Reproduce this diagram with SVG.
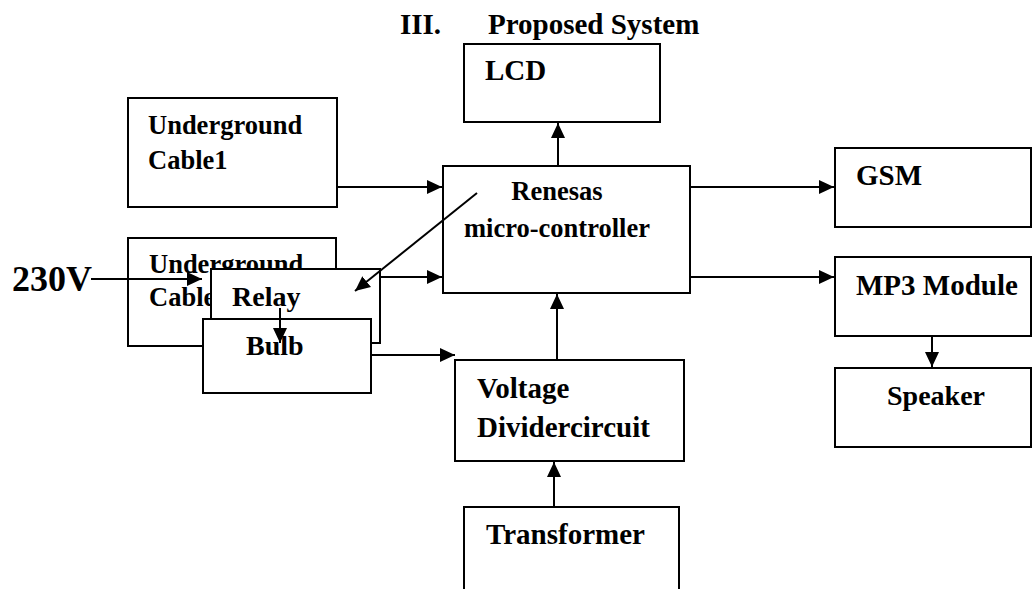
<svg xmlns="http://www.w3.org/2000/svg" width="1032" height="589" viewBox="0 0 1032 589">
<style>
.box{fill:#fff;stroke:#000;stroke-width:2}
.t{font-family:"Liberation Serif","Times New Roman",serif;font-weight:bold;font-size:28px;fill:#000}
.s26{font-size:26.5px}
.s29{font-size:29px}
.s36{font-size:36px}
.c{stroke:#000;stroke-width:2;fill:none;marker-end:url(#ah)}
</style>
<defs>
<marker id="ah" markerUnits="userSpaceOnUse" markerWidth="16" markerHeight="16" viewBox="0 0 16 16" refX="15" refY="8" orient="auto">
<path d="M0,1 L15,8 L0,15 Z" fill="#000"/>
</marker>
</defs>
<rect width="1032" height="589" fill="#fff"/>
<g id="title">
<text class="t s29" x="400" y="34">III.</text>
<text class="t s29" x="488" y="34">Proposed System</text>
</g>
<g id="lcd"><rect class="box" x="464" y="44" width="196" height="78"/><text class="t s29" x="485" y="80">LCD</text></g>
<g id="cable1"><rect class="box" x="128" y="98" width="209" height="109"/><text class="t s26" x="148" y="134">Underground</text><text class="t s26" x="148" y="169">Cable1</text></g>
<g id="micro"><rect class="box" x="443" y="166" width="247" height="127"/><text class="t s26" x="557" y="200" text-anchor="middle">Renesas</text><text class="t s26" x="557" y="237" text-anchor="middle">micro-controller</text></g>
<g id="gsm"><rect class="box" x="835" y="148" width="196" height="79"/><text class="t s29" x="856" y="185">GSM</text></g>
<g id="mp3"><rect class="box" x="835" y="257" width="196" height="79"/><text class="t s29" x="856" y="295">MP3 Module</text></g>
<g id="speaker"><rect class="box" x="835" y="368" width="196" height="79"/><text class="t" x="887" y="405">Speaker</text></g>
<g id="cable2"><rect class="box" x="128" y="238" width="208" height="108"/><text class="t s26" x="149" y="273">Underground</text><text class="t s26" x="149" y="306">Cable2</text></g>
<g id="relay"><rect class="box" x="211" y="269" width="169" height="74"/><text class="t" x="232" y="306">Relay</text></g>
<g id="bulb"><rect class="box" x="203" y="319" width="168" height="74"/><text class="t" x="246" y="355">Bulb</text></g>
<g id="voltage"><rect class="box" x="455" y="360" width="229" height="101"/><text class="t s29" x="477" y="398">Voltage</text><text class="t s29" x="477" y="437">Dividercircuit</text></g>
<g id="transformer"><rect class="box" x="464" y="507" width="215" height="90"/><text class="t s29" x="486" y="544">Transformer</text></g>
<g id="v230"><text class="t s36" x="12" y="291">230V</text></g>
<g id="connectors">
<line class="c" x1="558" y1="166" x2="558" y2="123"/>
<line class="c" x1="337" y1="187" x2="442" y2="187"/>
<line class="c" x1="380" y1="277" x2="442" y2="277"/>
<line class="c" x1="690" y1="187" x2="834" y2="187"/>
<line class="c" x1="690" y1="277" x2="834" y2="277"/>
<line class="c" x1="932" y1="336" x2="932" y2="367"/>
<line class="c" x1="557" y1="360" x2="557" y2="294"/>
<line class="c" x1="554" y1="507" x2="554" y2="462"/>
<line class="c" x1="371" y1="355" x2="455" y2="355"/>
<line class="c" x1="91" y1="279" x2="202" y2="279"/>
<line class="c" x1="280" y1="308" x2="280" y2="343"/>
<line class="c" x1="477" y1="193" x2="355" y2="291"/>
</g>
</svg>
